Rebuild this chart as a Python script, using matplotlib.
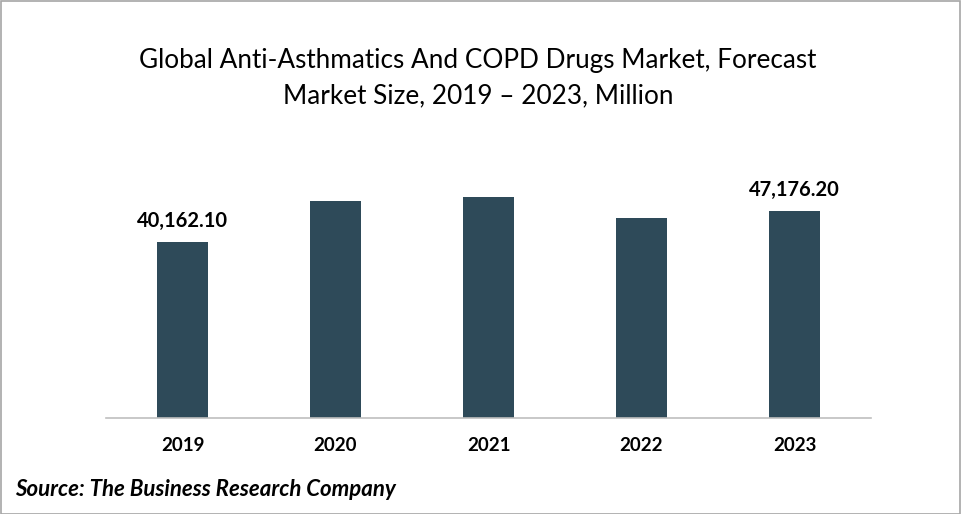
import matplotlib
matplotlib.use("Agg")
import matplotlib.pyplot as plt
from matplotlib.patches import Rectangle

# ===== data =====
years = ["2019", "2020", "2021", "2022", "2023"]
market_size = [40162.10, 49460, 50370, 45580, 47176.20]
shown_labels = {0: "40,162.10", 4: "47,176.20"}

title = "Global Anti-Asthmatics And COPD Drugs Market, Forecast\nMarket Size, 2019 \u2013 2023, Million"
source = "Source: The Business Research Company"

bar_color = "#2E4A59"
plt.rcParams["font.family"] = ["Lato", "DejaVu Sans"]

fig = plt.figure(figsize=(9.61, 5.14), dpi=100)
W, H = 961, 514
# axes: x 106..871, baseline y=418, top y=160
ax = fig.add_axes([106 / W, 1 - 418 / H, (871 - 106) / W, (418 - 160) / H])

x = list(range(len(years)))
ax.bar(x, market_size, width=0.33, color=bar_color)
ax.set_xlim(-0.5, len(years) - 0.5)
ax.set_ylim(0, 58800)

for i, txt in shown_labels.items():
    ax.annotate(txt, (x[i], market_size[i]), xytext=(0, 8), textcoords="offset points",
                ha="center", va="bottom", fontsize=14.5, fontweight="bold", color="black")

ax.set_xticks(x)
ax.set_xticklabels(years, fontsize=13.5, fontweight="bold")
ax.tick_params(axis="x", length=0, pad=14)
ax.set_yticks([])
for s in ("top", "right", "left"):
    ax.spines[s].set_visible(False)
ax.spines["bottom"].set_color("#BFBFBF")
ax.spines["bottom"].set_linewidth(1.2)

fig.text(478 / W, 1 - 78 / H, title, ha="center", va="center", fontsize=18.8,
         linespacing=1.5, color="black")
fig.text(15 / W, 1 - 490 / H, source, ha="left", va="center", fontsize=16,
         fontweight="bold", fontstyle="italic", color="black")

# outer frame
fig.patches.append(Rectangle((0.5 / W, 0.5 / H), 1 - 1.5 / W, 1 - 1.5 / H,
                             transform=fig.transFigure, fill=False,
                             edgecolor="#A6A6A6", linewidth=1.2))

fig.savefig("out.png", dpi=100)
